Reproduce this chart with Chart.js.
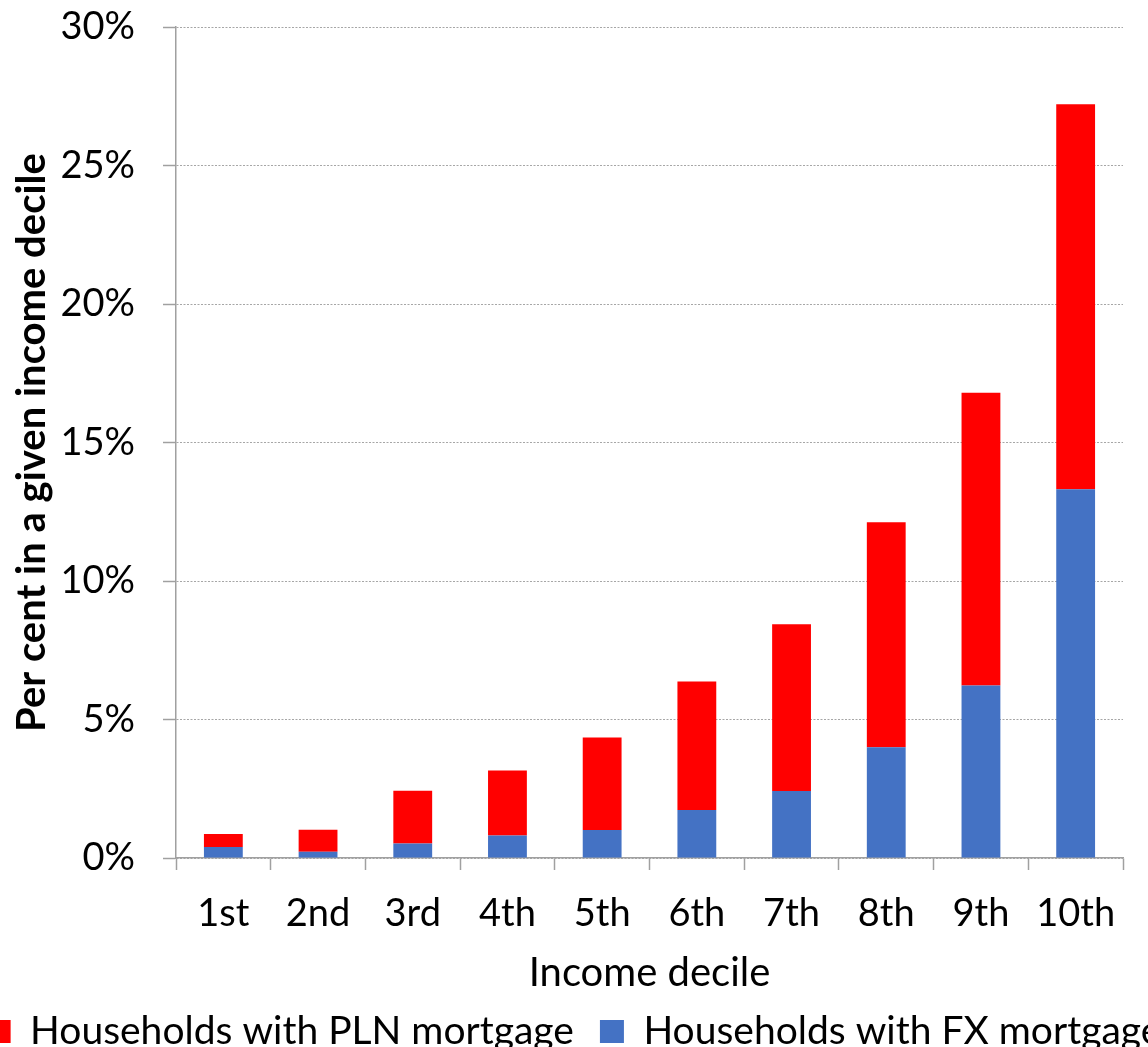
<!DOCTYPE html>
<html>
<head>
<meta charset="utf-8">
<title>Mortgages by income decile</title>
<script src="https://cdn.jsdelivr.net/npm/chart.js@4/dist/chart.umd.min.js"></script>
<style>
html,body{margin:0;padding:0;background:#fff;overflow:hidden;width:1148px;height:1047px;}
#wrap{position:absolute;left:-56px;top:0;}
</style>
</head>
<body>
<div id="wrap"><canvas id="mortgageChart" width="1260" height="1061"></canvas></div>
<script>
const deciles = ["1st","2nd","3rd","4th","5th","6th","7th","8th","9th","10th"];

// share of households in each decile, per cent
const fxMortgage  = [0.40, 0.23, 0.52, 0.81, 1.01, 1.73, 2.42, 4.00, 6.23, 13.31];
const plnMortgage = [0.47, 0.79, 1.91, 2.35, 3.34, 4.64, 6.02, 8.12, 10.57, 13.90];

const yTicks = [0, 5, 10, 15, 20, 25, 30];

const FONT = "Lato";

let mortgageChart;

document.addEventListener("DOMContentLoaded",()=>{

const ctx = document.getElementById("mortgageChart");

mortgageChart = new Chart(ctx,{

type:"bar",

data:{
labels:deciles,
datasets:[
{
label:"Households with FX mortgage",
data:fxMortgage,
backgroundColor:"#4472C4",
borderWidth:0
},
{
label:"Households with PLN mortgage",
data:plnMortgage,
backgroundColor:"#FF0000",
borderWidth:0
}
]
},

options:{
responsive:false,
animation:false,
devicePixelRatio:1,
layout:{padding:0},
datasets:{bar:{barPercentage:0.41,categoryPercentage:1}},
plugins:{
tooltip:{enabled:false},
legend:{
position:"bottom",
reverse:true,
labels:{
boxWidth:24,
boxHeight:23,
padding:26,
color:"#000",
font:{family:FONT,size:39}
}
}
},
scales:{
x:{
stacked:true,
afterFit:(scale)=>{
scale.height = 128;
},
grid:{
drawOnChartArea:false,
drawTicks:true,
tickLength:12,
tickColor:"#a0a0a0",
tickWidth:1.5
},
border:{color:"#a0a0a0",width:1.5},
ticks:{color:"#000",padding:21,font:{family:FONT,size:38}},
title:{
display:true,
text:"Income decile",
color:"#000",
padding:{top:0,bottom:-11},
font:{family:FONT,size:40}
}
},
y:{
stacked:true,
min:0,
max:30,
afterBuildTicks:(scale)=>{
scale.ticks = yTicks.map(v=>({value:v}));
},
// left part of the canvas sits off screen, so the axis is 56px wider
afterFit:(scale)=>{
scale.width = 232;
scale.paddingTop = 27;
},
grid:{
color:"#a6a6a6",
lineWidth:1,
drawTicks:true,
tickLength:13,
tickColor:"#a0a0a0",
tickWidth:1.5,
tickBorderDash:[]
},
border:{color:"#a0a0a0",width:1.5,dash:[2,1.5]},
ticks:{
color:"#000",
padding:28,
font:{family:FONT,size:38},
callback:(v)=>v+"%"
},
title:{
display:true,
text:"Per cent in a given income decile",
color:"#000",
padding:{top:64,bottom:0},
font:{family:FONT,size:40,weight:"bold"}
}
},
// empty right-hand axis, only keeps space after the plot
yRight:{
position:"right",
display:true,
grid:{display:false},
border:{display:false},
ticks:{display:false},
afterFit:(scale)=>{
scale.width = 81;
}
}
}
}

});

});
</script>
</body>
</html>
